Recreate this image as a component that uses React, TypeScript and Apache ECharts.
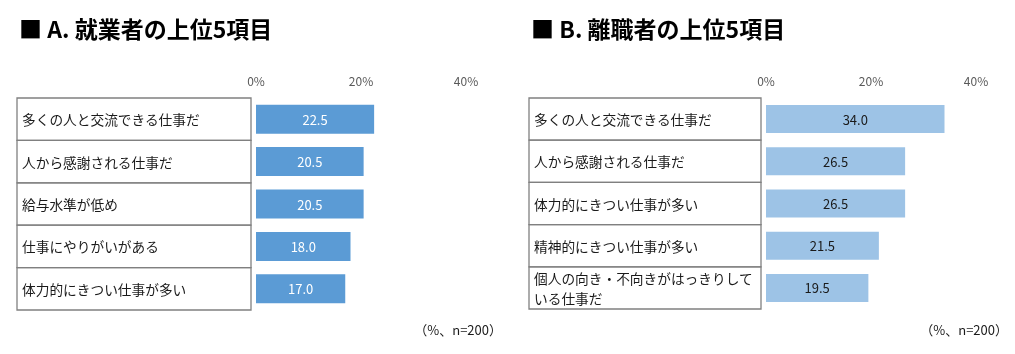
import React, { useEffect, useRef } from "react";
import * as echarts from "echarts";

const titleA = "■ A. 就業者の上位5項目";
const titleB = "■ B. 離職者の上位5項目";
const catsA = ["多くの人と交流できる仕事だ", "人から感謝される仕事だ", "給与水準が低め", "仕事にやりがいがある", "体力的にきつい仕事が多い"];
const valsA = [22.5, 20.5, 20.5, 18.0, 17.0];
const catsB = ["多くの人と交流できる仕事だ", "人から感謝される仕事だ", "体力的にきつい仕事が多い", "精神的にきつい仕事が多い", "個人の向き・不向きがはっきりして\nいる仕事だ"];
const valsB = [34.0, 26.5, 26.5, 21.5, 19.5];
const axisMin = 0;
const axisMax = 40;
const axisInterval = 20;
const note = "（%、n=200）";

const FONT = "'Noto Sans CJK JP', 'Noto Sans', sans-serif";

export default function App() {
  const ref = useRef<HTMLDivElement>(null);
  useEffect(() => {
    if (!ref.current) return;
    const chart = echarts.init(ref.current, null, { renderer: "svg" });
    const grids = [
      { left: 256, top: 98, width: 210, height: 212 },
      { left: 766, top: 98, width: 210, height: 211 },
    ];
    const tableLefts = [17, 529];
    const tableGap = 5;

    const tableGraphics: any[] = [];
    [catsA, catsB].forEach((cats, p) => {
      const g = grids[p];
      const rowH = g.height / cats.length;
      const x = tableLefts[p];
      const w = g.left - tableGap - x;
      cats.forEach((_, i) => {
        tableGraphics.push({
          type: "rect",
          silent: true,
          shape: { x, y: g.top + i * rowH, width: w, height: rowH },
          style: { fill: "none", stroke: "#808080", lineWidth: 1.3 },
        });
      });
    });

    const mkX = (idx: number) => ({
      type: "value",
      gridIndex: idx,
      position: "top",
      min: axisMin,
      max: axisMax,
      interval: axisInterval,
      axisLine: { show: false },
      axisTick: { show: false },
      splitLine: { show: false },
      axisLabel: {
        formatter: "{value}%",
        color: "#595959",
        fontSize: 12,
        fontFamily: FONT,
        margin: 12,
      },
    });
    const mkY = (idx: number, cats: string[], p: number) => ({
      type: "category",
      gridIndex: idx,
      data: cats,
      inverse: true,
      axisLine: { show: false },
      axisTick: { show: false },
      splitLine: { show: false },
      axisLabel: {
        align: "left",
        margin: grids[p].left - tableLefts[p] - 5,
        color: "#1a1a1a",
        fontSize: 13.7,
        lineHeight: 20,
        fontFamily: FONT,
      },
    });

    chart.setOption({
      animation: false,
      textStyle: { fontFamily: FONT },
      title: [
        { text: titleA, left: 14, top: 11, textStyle: { fontSize: 23, fontWeight: "bold", color: "#000", fontFamily: FONT } },
        { text: titleB, left: 526, top: 11, textStyle: { fontSize: 23, fontWeight: "bold", color: "#000", fontFamily: FONT } },
      ],
      grid: grids,
      xAxis: [mkX(0), mkX(1)],
      yAxis: [mkY(0, catsA, 0), mkY(1, catsB, 1)],
      series: [
        {
          type: "bar",
          xAxisIndex: 0,
          yAxisIndex: 0,
          data: valsA,
          barWidth: 29,
          itemStyle: { color: "#5B9BD5" },
          label: {
            show: true,
            position: "inside",
            color: "#fff",
            fontSize: 13,
            fontFamily: FONT,
            formatter: (p: any) => Number(p.value).toFixed(1),
          },
        },
        {
          type: "bar",
          xAxisIndex: 1,
          yAxisIndex: 1,
          data: valsB,
          barWidth: 28,
          itemStyle: { color: "#9DC3E6" },
          label: {
            show: true,
            position: "inside",
            color: "#1a1a1a",
            fontSize: 13,
            fontFamily: FONT,
            formatter: (p: any) => Number(p.value).toFixed(1),
          },
        },
      ],
      graphic: [
        ...tableGraphics,
        {
          type: "text",
          right: 1015 - 502,
          top: 323,
          style: { text: note, fill: "#1a1a1a", fontSize: 13, fontFamily: FONT },
        },
        {
          type: "text",
          right: 1015 - 1008,
          top: 323,
          style: { text: note, fill: "#1a1a1a", fontSize: 13, fontFamily: FONT },
        },
      ],
    });
    return () => chart.dispose();
  }, []);
  return <div ref={ref} style={{ position: "fixed", left: 0, top: 0, width: 1015, height: 354 }} />;
}
